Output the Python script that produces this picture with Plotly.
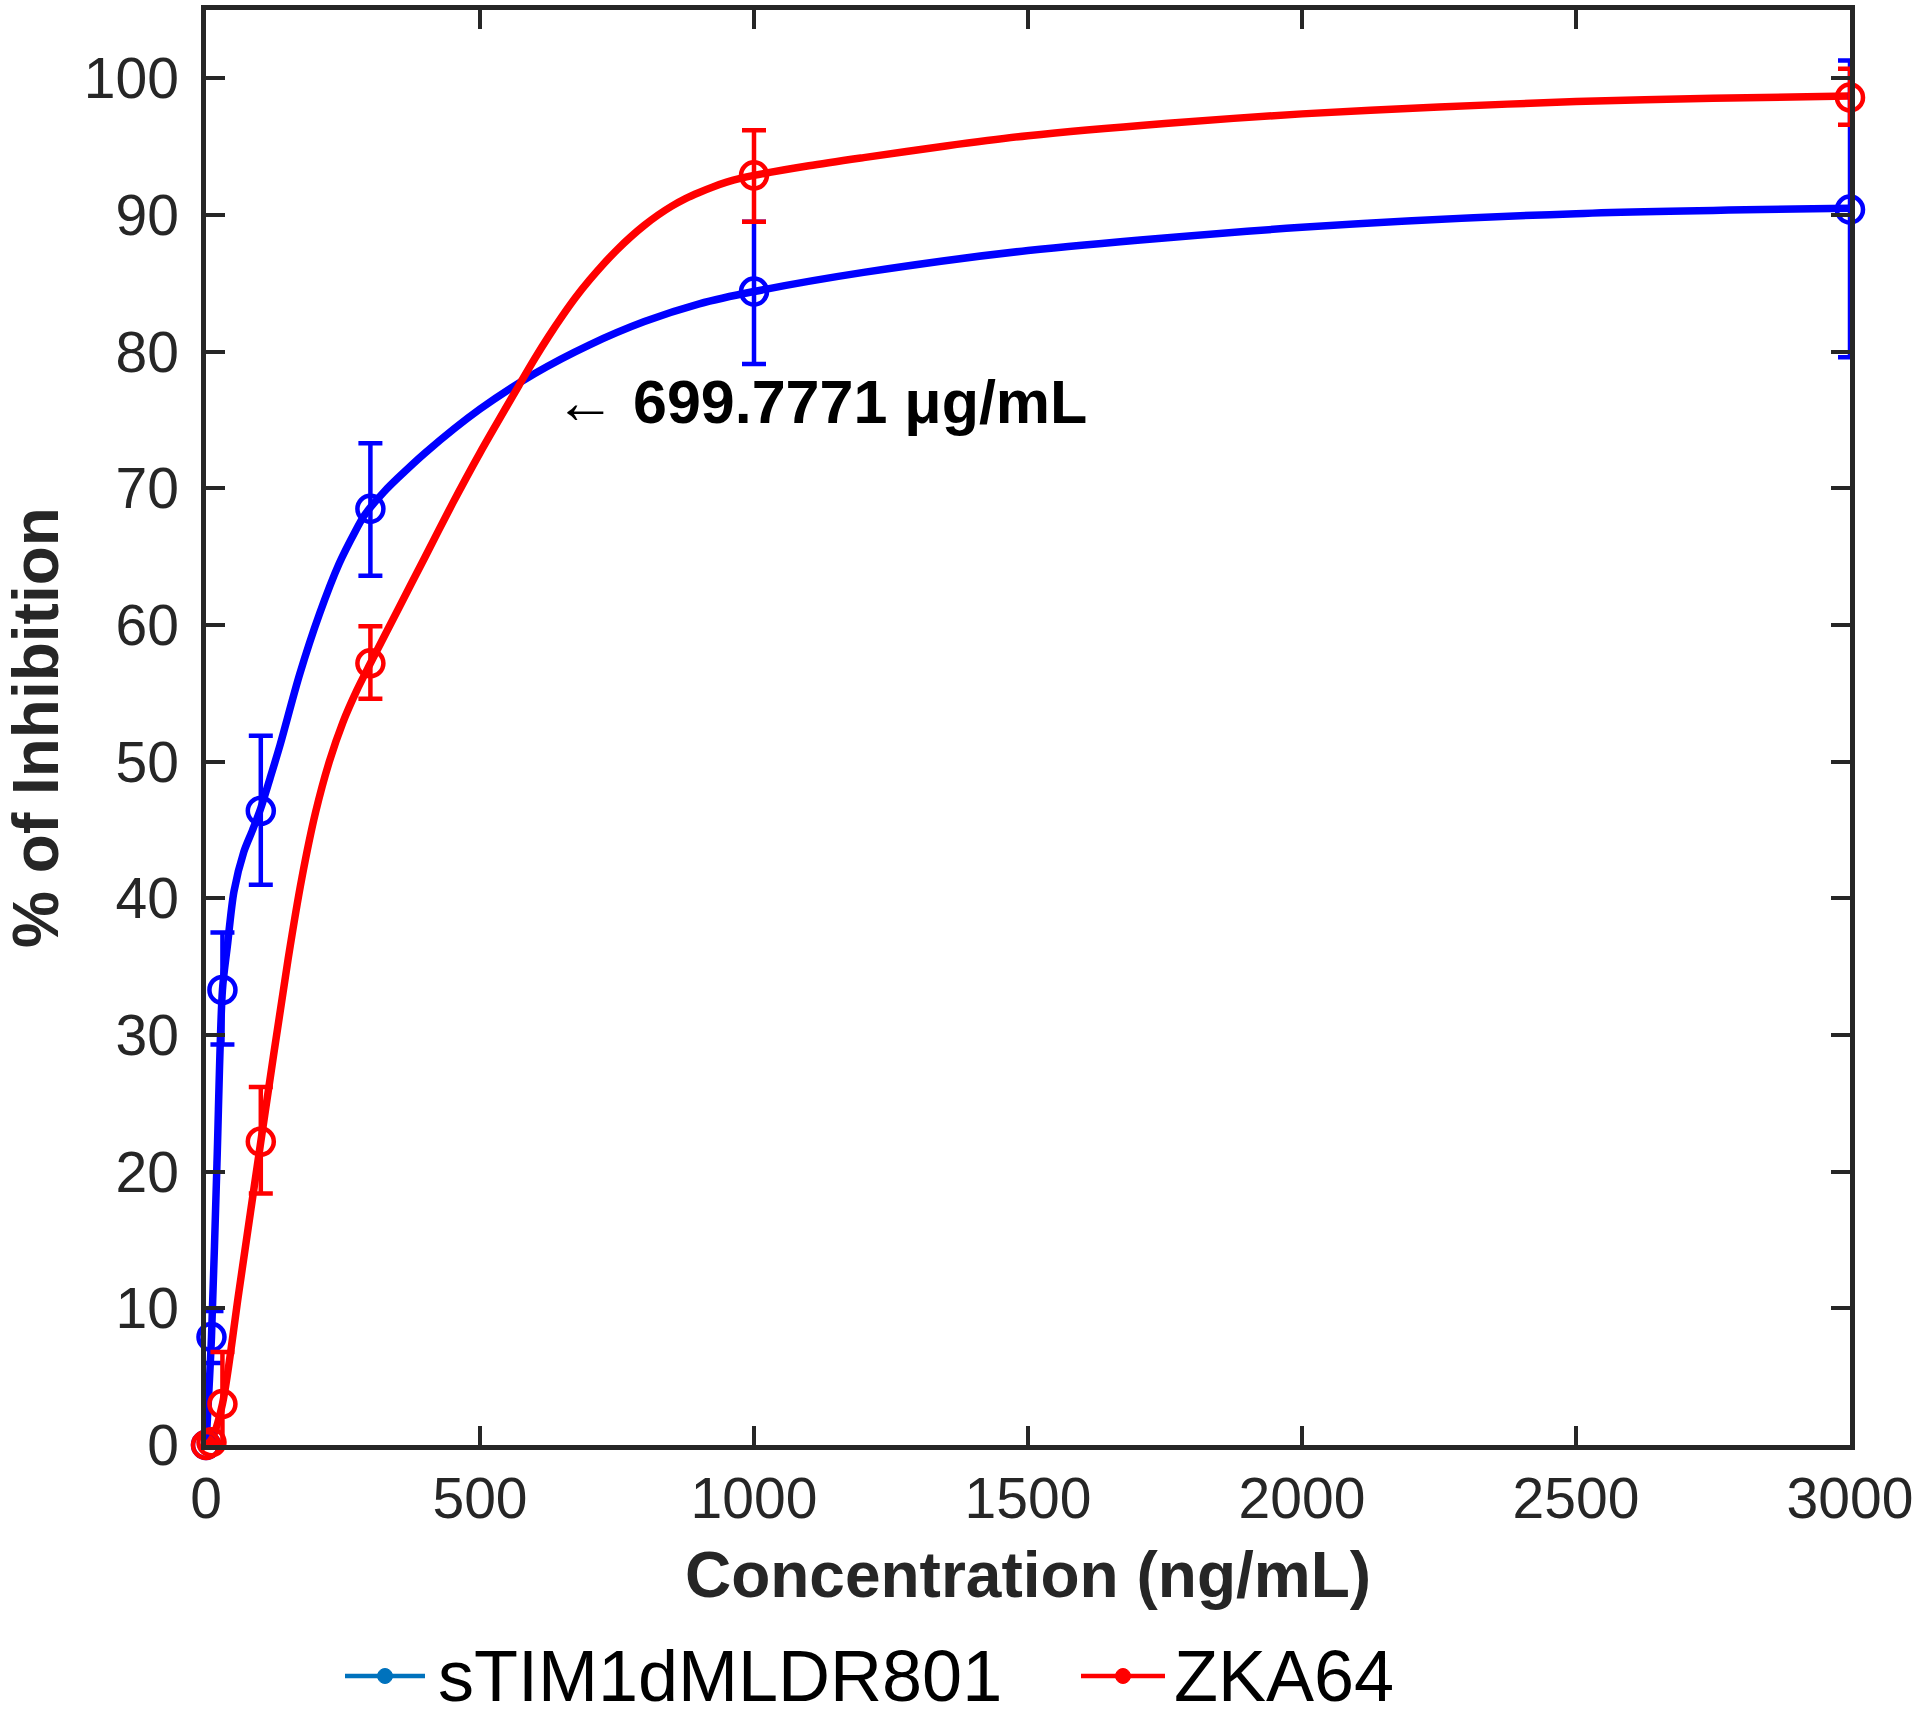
import plotly.graph_objects as go

# ---- data ----
conc = [0, 10, 30, 100, 300, 1000, 3000]

blue_name = "sTIM1dMLDR801"
blue_y = [0, 7.9, 33.3, 46.4, 68.5, 84.4, 90.4]
blue_err_plus = [0, 1.9, 4.2, 5.5, 4.8, 5.1, 10.9]
blue_err_minus = [0, 1.9, 4.0, 5.4, 4.9, 5.3, 10.8]

red_name = "ZKA64"
red_y = [0, 0.2, 3.0, 22.2, 57.2, 92.9, 98.6]
red_err_plus = [0, 0, 3.8, 4.0, 2.7, 3.3, 2.1]
red_err_minus = [0, 0, 3.8, 3.8, 2.6, 3.4, 2.0]

# fitted curves
blue_fit_x = [0, 10, 20, 30, 39, 51, 69, 85, 100, 117, 135, 171, 207, 243, 273, 287, 300,
              325, 350, 400, 500, 600, 700, 800, 900, 1000, 1200, 1500, 2000, 2500, 3000]
blue_fit_y = [0, 7.9, 20.6, 33.3, 36.5, 40.5, 43.4, 45.0, 46.6, 48.8, 51.2, 56.4, 60.8, 64.5,
              66.9, 67.9, 68.6, 69.75, 70.75, 72.6, 75.8, 78.4, 80.5, 82.2, 83.5, 84.4, 85.8,
              87.4, 89.1, 90.1, 90.5]
red_fit_x = [0, 10, 30, 60, 100, 150, 175, 200, 225, 250, 275, 300, 350, 400, 450, 500, 575,
             600, 625, 650, 675, 700, 725, 750, 775, 800, 825, 850, 875, 900, 925, 950, 975,
             1000, 1100, 1200, 1350, 1500, 1750, 2000, 2250, 2500, 2750, 3000]
red_fit_y = [0, 0.4, 3.0, 11.2, 22.2, 35.6, 41.5, 46.3, 50.0, 52.9, 55.2, 57.2, 61.1, 65.0,
             68.9, 72.6, 77.8, 79.5, 81.1, 82.6, 84.0, 85.25, 86.4, 87.45, 88.4, 89.25, 90.0,
             90.65, 91.2, 91.65, 92.05, 92.4, 92.68, 92.9, 93.6, 94.2, 95.05, 95.8, 96.7, 97.4,
             97.9, 98.3, 98.55, 98.7]

x_ticks = [0, 500, 1000, 1500, 2000, 2500, 3000]
y_ticks = [0, 10, 20, 30, 40, 50, 60, 70, 80, 90, 100]

annot_text = "← <b>699.7771 μg/mL</b>"
annot_x = 633
annot_y = 76.3

BLUE = "#0000FF"
RED = "#FF0000"
LEG_BLUE = "#0072BD"
AXC = "#262626"
FONT = "Liberation Sans, Arial, Helvetica, sans-serif"

fig = go.Figure()

# fitted curves
fig.add_trace(go.Scatter(x=blue_fit_x, y=blue_fit_y, mode="lines", name=blue_name,
                         line=dict(color=BLUE, width=7.5, shape="spline", smoothing=0.8),
                         showlegend=False, hoverinfo="skip"))
fig.add_trace(go.Scatter(x=red_fit_x, y=red_fit_y, mode="lines", name=red_name,
                         line=dict(color=RED, width=7.5, shape="spline", smoothing=0.8),
                         showlegend=False, hoverinfo="skip"))

# data points with error bars
fig.add_trace(go.Scatter(x=conc, y=blue_y, mode="markers", cliponaxis=False, name=blue_name,
                         marker=dict(symbol="circle-open", size=26, color=BLUE,
                                     line=dict(width=4.5, color=BLUE)),
                         error_y=dict(type="data", symmetric=False, array=blue_err_plus,
                                      arrayminus=blue_err_minus, color=BLUE,
                                      thickness=4.5, width=12),
                         showlegend=False))
fig.add_trace(go.Scatter(x=conc, y=red_y, mode="markers", cliponaxis=False, name=red_name,
                         marker=dict(symbol="circle-open", size=26, color=RED,
                                     line=dict(width=4.5, color=RED)),
                         error_y=dict(type="data", symmetric=False, array=red_err_plus,
                                      arrayminus=red_err_minus, color=RED,
                                      thickness=4.5, width=12),
                         showlegend=False))

fig.add_annotation(x=annot_x, y=annot_y, xref="x", yref="y", text=annot_text,
                   showarrow=False, xanchor="left", yanchor="middle",
                   font=dict(family=FONT, size=61, color="black"))

# ---- legend (below the axes), built from paper-positioned items ----
PL, PR, PT, PB = 206, 1850, 10, 1445   # plot-area edges in figure pixels


def px_x(p):   # figure pixel -> paper x
    return (p - PL) / float(PR - PL)


def px_y(p):   # figure pixel -> paper y
    return (PB - p) / float(PB - PT)


legend_items = [
    (blue_name, LEG_BLUE, 345, 425, 436),
    (red_name, RED, 1081, 1165, 1172),
]
LEG_ROW = 1676
for name, col, lx0, lx1, tx in legend_items:
    fig.add_shape(type="line", xref="paper", yref="paper",
                  x0=px_x(lx0), x1=px_x(lx1), y0=px_y(LEG_ROW), y1=px_y(LEG_ROW),
                  line=dict(color=col, width=4.5))
    fig.add_shape(type="circle", xref="paper", yref="paper",
                  xsizemode="pixel", ysizemode="pixel",
                  xanchor=px_x((lx0 + lx1) / 2), yanchor=px_y(LEG_ROW),
                  x0=-7.5, x1=7.5, y0=-7.5, y1=7.5,
                  fillcolor=col, line=dict(color=col, width=1))
    fig.add_annotation(x=px_x(tx), y=px_y(LEG_ROW), xref="paper", yref="paper",
                       text=name, showarrow=False, xanchor="left", yanchor="middle",
                       font=dict(family=FONT, size=72, color="black"))

axis_common = dict(showline=True, linecolor=AXC, linewidth=4.5, mirror="ticks",
                   ticks="inside", ticklen=19, tickwidth=4, tickcolor=AXC,
                   showgrid=False, zeroline=False, automargin=False,
                   tickfont=dict(family=FONT, size=57, color=AXC))

fig.update_xaxes(range=[0, 3000], tickvals=x_ticks, ticklabelstandoff=0,
                 title=dict(text="<b>Concentration (ng/mL)</b>", standoff=25,
                            font=dict(family=FONT, size=64, color=AXC)),
                 **axis_common)
fig.update_yaxes(range=[0, 105], tickvals=y_ticks, ticklabelstandoff=11,
                 title=dict(text="<b>% of Inhibition</b>", standoff=36,
                            font=dict(family=FONT, size=64, color=AXC)),
                 **axis_common)

fig.update_layout(
    width=1920, height=1719,
    margin=dict(l=PL, r=1920 - PR, t=PT, b=1719 - PB, autoexpand=False),
    paper_bgcolor="white", plot_bgcolor="white",
    showlegend=False,
)

# remove the default 8px page margin so the figure fills the window exactly
fig.write_html("out.html",
               config={"displayModeBar": False},
               post_script="document.body.style.margin='0px';"
                           "document.body.style.overflow='hidden';")
